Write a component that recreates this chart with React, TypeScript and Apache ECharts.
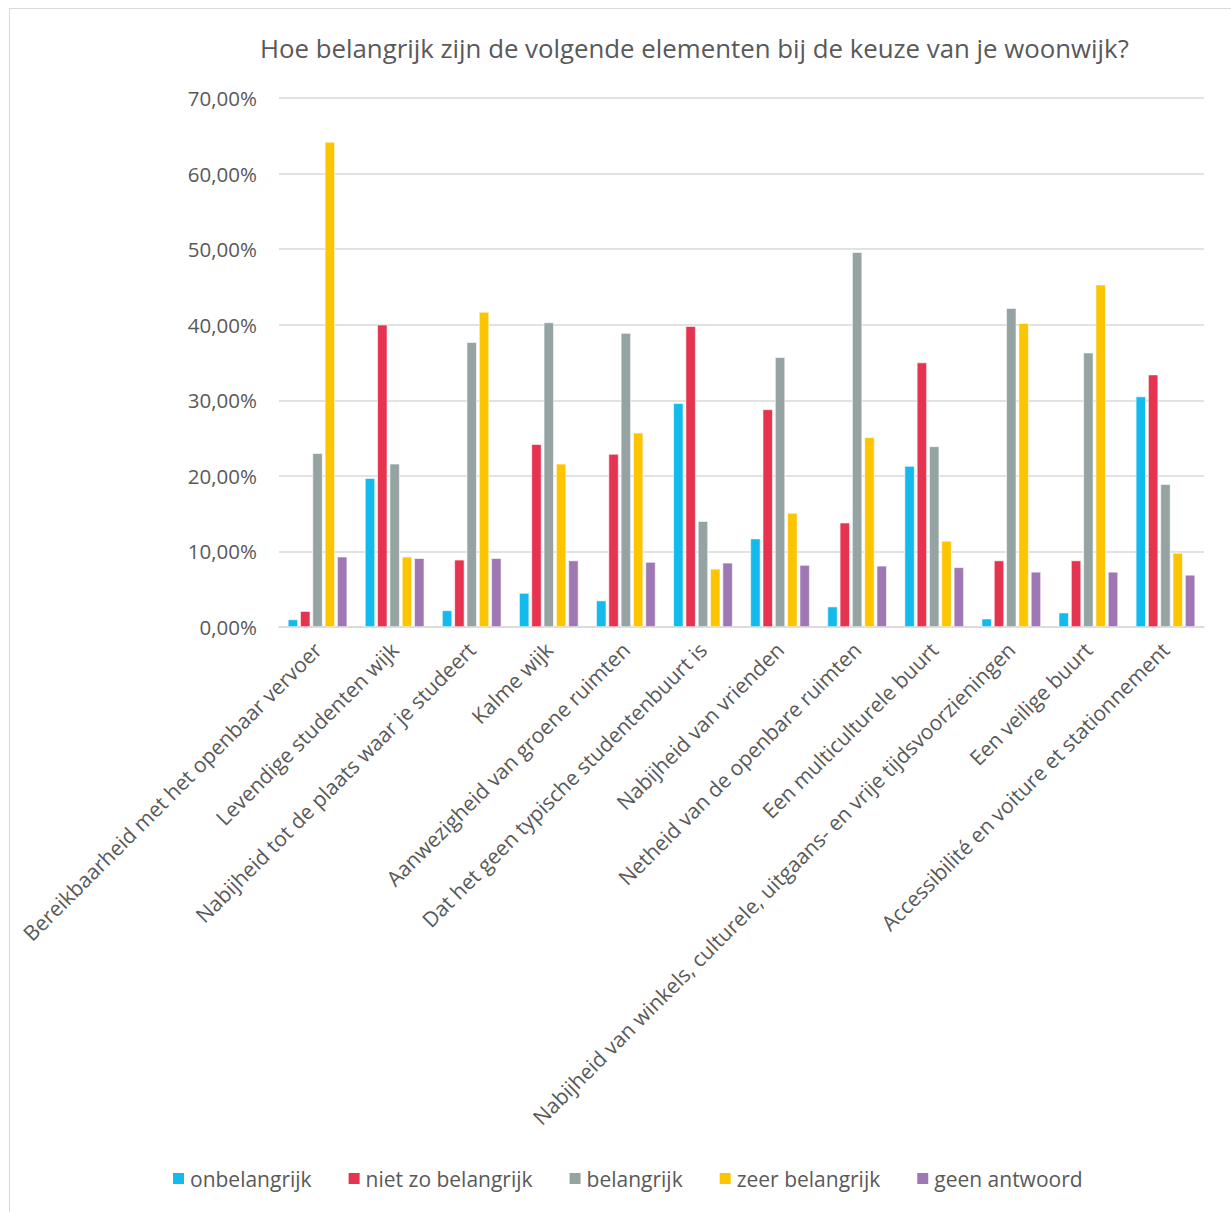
import React, { useEffect, useRef } from "react";
import * as echarts from "echarts";

const title = "Hoe belangrijk zijn de volgende elementen bij de keuze van je woonwijk?";

const categories = [
  "Bereikbaarheid met het openbaar vervoer",
  "Levendige studenten wijk",
  "Nabijheid tot de plaats waar je studeert",
  "Kalme wijk",
  "Aanwezigheid van groene ruimten",
  "Dat het geen typische studentenbuurt is",
  "Nabijheid van vrienden",
  "Netheid van de openbare ruimten",
  "Een multiculturele buurt",
  "Nabijheid van winkels, culturele, uitgaans- en vrije tijdsvoorzieningen",
  "Een veilige buurt",
  "Accessibilité en voiture et stationnement",
];

const seriesNames = ["onbelangrijk", "niet zo belangrijk", "belangrijk", "zeer belangrijk", "geen antwoord"];

const onbelangrijk = [1.0, 19.7, 2.2, 4.5, 3.5, 29.6, 11.7, 2.7, 21.3, 1.1, 1.9, 30.5];
const nietZoBelangrijk = [2.1, 40.0, 8.9, 24.2, 22.9, 39.8, 28.8, 13.8, 35.0, 8.8, 8.8, 33.4];
const belangrijk = [23.0, 21.6, 37.7, 40.3, 38.9, 14.0, 35.7, 49.6, 23.9, 42.2, 36.3, 18.9];
const zeerBelangrijk = [64.2, 9.3, 41.7, 21.6, 25.7, 7.7, 15.1, 25.1, 11.4, 40.2, 45.3, 9.8];
const geenAntwoord = [9.3, 9.1, 9.1, 8.8, 8.6, 8.5, 8.2, 8.1, 7.9, 7.3, 7.3, 6.9];

const colors = ["#13BAEC", "#E6334F", "#95A3A2", "#FDC400", "#9F77B3"];

const textColor = "#595959";
const fontFamily = "'Open Sans', sans-serif";

export default function App() {
  const ref = useRef<HTMLDivElement>(null);

  useEffect(() => {
    document.body.style.margin = "0";
    document.body.style.overflow = "hidden";
    if (!ref.current) return;
    const chart = echarts.init(ref.current, null, { renderer: "svg" });
    const data = [onbelangrijk, nietZoBelangrijk, belangrijk, zeerBelangrijk, geenAntwoord];
    chart.setOption({
      animation: false,
      backgroundColor: "transparent",
      color: colors,
      textStyle: { fontFamily },
      title: {
        text: title,
        left: 255,
        top: 30,
        textStyle: { color: textColor, fontSize: 25.8, fontWeight: "normal", fontFamily },
      },
      legend: {
        data: seriesNames,
        left: 166,
        top: 1163,
        itemWidth: 13,
        itemHeight: 13,
        itemGap: 35,
        icon: "rect",
        textStyle: { color: textColor, fontSize: 21, fontFamily },
      },
      grid: { left: 279, right: 27, top: 98, bottom: 585, containLabel: false },
      xAxis: {
        type: "category",
        data: categories,
        axisLine: { lineStyle: { color: "#D9D9D9", width: 1.5 } },
        axisTick: { show: false },
        axisLabel: {
          rotate: 45,
          interval: 0,
          margin: 19,
          color: textColor,
          fontSize: 21,
          fontFamily,
        },
      },
      yAxis: {
        type: "value",
        min: 0,
        max: 70,
        interval: 10,
        axisLine: { show: false },
        axisTick: { show: false },
        splitLine: { lineStyle: { color: "#D9D9D9", width: 1.5 } },
        axisLabel: {
          color: textColor,
          fontSize: 20.5,
          fontFamily,
          margin: 22,
          formatter: (v: number) => v.toFixed(2).replace(".", ",") + "%",
        },
      },
      series: seriesNames.map((name, i) => ({
        name,
        type: "bar",
        data: data[i],
        barGap: "22%",
        barCategoryGap: "23%",
        itemStyle: { color: colors[i], borderColor: "#ffffff", borderWidth: 0.6 },
      })),
    });
    return () => chart.dispose();
  }, []);

  return (
    <div style={{ position: "absolute", left: 0, top: 0, width: 1231, height: 1212, background: "#fff" }}>
      <div
        style={{
          position: "absolute",
          left: 9,
          top: 8,
          width: 1222,
          height: 1204,
          boxSizing: "border-box",
          borderLeft: "1.5px solid #D9D9D9",
          borderTop: "1.5px solid #D9D9D9",
        }}
      />
      <div ref={ref} style={{ position: "absolute", left: 0, top: 0, width: 1231, height: 1212 }} />
    </div>
  );
}
